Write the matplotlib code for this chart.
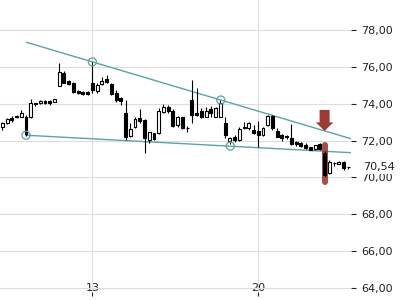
import matplotlib
matplotlib.use("Agg")
import matplotlib.pyplot as plt
from matplotlib.ticker import FuncFormatter
import numpy as np

# candle OHLC values (5 candles per day)
opens = [72.75, 72.94, 73.21, 73.33, 73.30, 73.30, 73.26, 74.02, 74.02, 74.16,
         74.15, 74.11, 74.98, 75.68, 75.23, 75.11, 74.71, 74.65, 74.66, 75.11,
         74.71, 75.05, 75.34, 75.05, 74.57, 74.29, 73.48, 72.27, 72.75, 73.21,
         73.12, 72.03, 72.40, 72.43, 73.57, 73.84, 73.62, 72.85, 73.26, 72.68,
         74.20, 73.51, 73.62, 73.30, 73.70, 73.30, 73.30, 72.97, 71.98, 72.21,
         72.03, 72.67, 72.67, 72.57, 72.54, 72.30, 72.85, 73.33, 72.54, 72.30,
         72.25, 72.12, 71.91, 71.85, 71.76, 71.64, 71.53, 71.80, 71.34, 70.22,
         70.77, 70.73, 70.85, 70.55]
highs = [73.02, 73.23, 73.33, 73.39, 73.66, 73.39, 74.24, 74.04, 74.18, 74.18,
         74.20, 74.28, 76.23, 75.75, 75.30, 75.18, 74.76, 74.68, 74.70, 76.26,
         75.11, 75.47, 75.56, 75.11, 74.74, 74.38, 74.20, 72.94, 73.26, 73.70,
         73.15, 72.48, 72.42, 73.75, 73.98, 73.93, 73.71, 73.33, 73.28, 72.79,
         75.29, 74.84, 73.75, 73.81, 73.88, 73.82, 74.20, 73.30, 72.21, 72.30,
         72.72, 73.02, 73.02, 72.85, 73.08, 72.74, 73.39, 73.39, 72.67, 72.36,
         72.30, 72.90, 71.99, 71.94, 71.85, 71.67, 71.78, 71.85, 71.45, 70.95,
         70.85, 70.88, 70.87, 70.56]
lows = [72.57, 72.90, 73.01, 73.23, 73.26, 72.27, 73.21, 73.88, 74.00, 74.00,
        73.95, 74.09, 74.96, 75.12, 75.00, 74.58, 74.54, 74.50, 74.50, 74.57,
        74.57, 75.02, 75.11, 74.47, 74.11, 73.93, 72.03, 72.21, 72.67, 72.94,
        71.31, 71.85, 72.03, 72.36, 73.48, 73.51, 72.74, 72.75, 72.61, 72.48,
        72.94, 73.36, 73.21, 73.26, 73.30, 73.28, 73.28, 72.12, 71.80, 71.94,
        71.99, 72.61, 72.57, 72.36, 71.64, 72.25, 72.79, 72.57, 72.18, 71.99,
        72.07, 71.76, 71.71, 71.64, 71.53, 71.47, 71.51, 71.49, 70.01, 70.19,
        70.62, 70.71, 70.40, 70.45]
closes = [72.97, 73.15, 73.12, 73.26, 73.51, 72.33, 74.02, 74.00, 74.16, 74.02,
          74.02, 74.26, 75.70, 75.14, 75.05, 74.65, 74.57, 74.53, 74.53, 74.74,
          75.02, 75.25, 75.16, 74.51, 74.20, 74.16, 72.21, 72.63, 73.15, 73.08,
          72.12, 72.45, 72.07, 73.62, 73.84, 73.62, 72.81, 73.26, 72.67, 72.66,
          73.39, 73.39, 73.30, 73.62, 73.51, 73.75, 74.02, 72.30, 72.12, 72.03,
          72.61, 72.75, 72.94, 72.40, 72.30, 72.67, 73.33, 72.67, 72.21, 72.12,
          72.18, 71.80, 71.80, 71.72, 71.58, 71.49, 71.76, 71.53, 70.13, 70.85,
          70.78, 70.85, 70.50, 70.54]

day_ticks = [19, 54]
day_labels = ["13", "20"]
price_ticks = [64, 66, 68, 70, 72, 74, 76, 78]

# trendlines (candle index, price) and touch points
upper_x = [5.15, 73.7]
upper_y = [77.33, 72.09]
lower_x = [5.0, 73.7]
lower_y = [72.29, 71.34]
touch_x = [5.0, 19.0, 46.1, 48.1]
touch_y = [72.29, 76.27, 74.20, 71.70]

# signal candle: highlight bar and arrow
signal_idx = 68
signal_bar = [71.76, 69.75]
arrow_tail = 73.66
arrow_tip = 72.52

teal = "#5ea2a6"
red = "#9c3a33"

fig = plt.figure(figsize=(4, 3), dpi=100)
ax = fig.add_axes([0, 8 / 300, 351 / 400, 292 / 300])
ax.set_xlim(-0.49, 73.57)
ax.set_ylim(63.78, 79.63)

for s in ax.spines.values():
    s.set_visible(False)
ax.set_yticks(price_ticks)
ax.set_xticks(day_ticks)
ax.set_xticklabels(day_labels)
ax.yaxis.set_major_formatter(FuncFormatter(lambda v, p: ("%.2f" % v).replace(".", ",")))
ax.yaxis.tick_right()
ax.tick_params(axis="y", direction="out", length=3.6, width=0.8, pad=4,
               labelsize=8, colors="#222222")
ax.tick_params(axis="x", direction="out", length=2.9, width=0.8, pad=-9.4,
               labelsize=8, colors="#222222")
ax.grid(True, color="#dddddd", lw=0.8)
ax.set_axisbelow(True)

x = np.arange(len(opens))
o = np.array(opens)
c = np.array(closes)

ax.plot(upper_x, upper_y, color=teal, lw=1.0, zorder=2)
ax.plot(lower_x, lower_y, color=teal, lw=1.0, zorder=2)

ax.plot([signal_idx, signal_idx], signal_bar, color=red, lw=4.3, alpha=0.9,
        solid_capstyle="round", zorder=3)

ax.vlines(x, lows, highs, color="black", lw=0.8, zorder=4)
face = ["white" if cc >= oo else "black" for oo, cc in zip(o, c)]
ax.bar(x, np.abs(c - o), bottom=np.minimum(o, c), width=0.62, color=face,
       edgecolor="black", lw=0.8, zorder=5)

ax.scatter(touch_x, touch_y, s=34, facecolors="none", edgecolors=teal,
           lw=0.9, zorder=6)

ax.annotate("", xy=(signal_idx, arrow_tip), xytext=(signal_idx, arrow_tail),
            arrowprops=dict(width=7.2, headwidth=12.5, headlength=6.2,
                            shrink=0, color=red, lw=0),
            zorder=7)

ax.text(1.034, closes[-1], ("%.2f" % closes[-1]).replace(".", ","),
        transform=ax.get_yaxis_transform(), ha="left", va="center",
        fontsize=8, color="#222222", clip_on=False, zorder=10,
        bbox=dict(boxstyle="square,pad=0.15", fc="white", ec="none"))

fig.savefig("out.png", dpi=100)
